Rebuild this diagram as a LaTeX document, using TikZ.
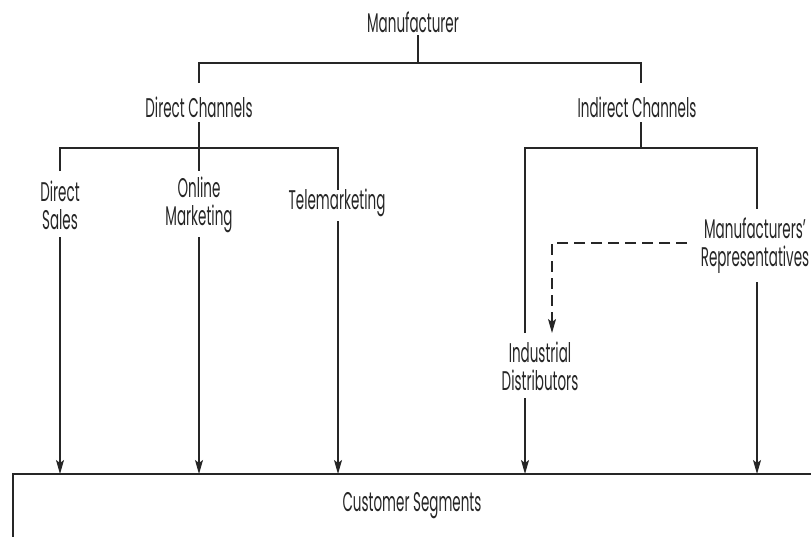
\documentclass[tikz,border=0pt]{standalone}
\usepackage{fontspec}
\setmainfont{Poppins}[FakeStretch=0.5]
\usetikzlibrary{arrows.meta}
\begin{document}
\begin{tikzpicture}[x=1pt,y=-1pt,
  lbl/.style={font=\fontsize{27}{28}\selectfont, align=center, inner sep=0pt, text=black!85},
  ln/.style={line width=1.2pt, draw=black!85},
  arr/.style={ln, -{Stealth[length=14pt,width=8pt,inset=3pt]}},
  dsh/.style={arr, dash pattern=on 11pt off 6pt}]
\useasboundingbox (0,0) rectangle (811,536);
% labels
\node[lbl] (M)  at (413,22)  {Manufacturer};
\node[lbl] (DC) at (199,107) {Direct Channels};
\node[lbl] (IC) at (637,107) {Indirect Channels};
\node[lbl] (DS) at (60,205)  {Direct\\Sales};
\node[lbl] (OM) at (199,205) {Online\\Marketing};
\node[lbl] (TM) at (337,203) {Telemarketing};
\node[lbl] (MR) at (755,246) {Manufacturers'\\Representatives};
\node[lbl] (ID) at (540,366) {Industrial\\Distributors};
% box
\draw[ln] (13,560) -- (13,474) -- (830,474);
\node[lbl] (CS) at (412,506) {Customer Segments};
% junction coordinates
\coordinate (m0) at (418,35);
\coordinate (m1) at (418,63);
\coordinate (dcT) at (199,83);
\coordinate (icT) at (641,83);
\coordinate (dcB) at (199,122);
\coordinate (icB) at (641,122);
\coordinate (dJ) at (199,148);
\coordinate (iJ) at (641,148);
\coordinate (dsT) at (60,171);
\coordinate (omT) at (199,171);
\coordinate (tmT) at (338,190);
\coordinate (idT) at (525,333);
\coordinate (mrT) at (757,209);
\coordinate (dsB) at (60,237);
\coordinate (omB) at (199,237);
\coordinate (tmB) at (338,221);
\coordinate (idB) at (525,398);
\coordinate (mrB) at (757,282);
\coordinate (dsE) at (60,474);
\coordinate (omE) at (199,474);
\coordinate (tmE) at (338,474);
\coordinate (idE) at (525,474);
\coordinate (mrE) at (757,474);
\coordinate (dA) at (687,243);
\coordinate (dC) at (552,243);
\coordinate (dE) at (552,333);
% tree
\draw[ln] (m0) -- (m1);
\draw[ln] (dcT) |- (m1) -| (icT);
\draw[ln] (dcB) -- (omT);
\draw[ln] (dsT) |- (dJ) -| (tmT);
\draw[ln] (icB) -- (iJ);
\draw[ln] (idT) |- (iJ) -| (mrT);
% arrows to segments
\draw[arr] (dsB) -- (dsE);
\draw[arr] (omB) -- (omE);
\draw[arr] (tmB) -- (tmE);
\draw[arr] (idB) -- (idE);
\draw[arr] (mrB) -- (mrE);
% dashed
\draw[dsh] (dA) -- (dC) -- (dE);
\end{tikzpicture}
\end{document}
